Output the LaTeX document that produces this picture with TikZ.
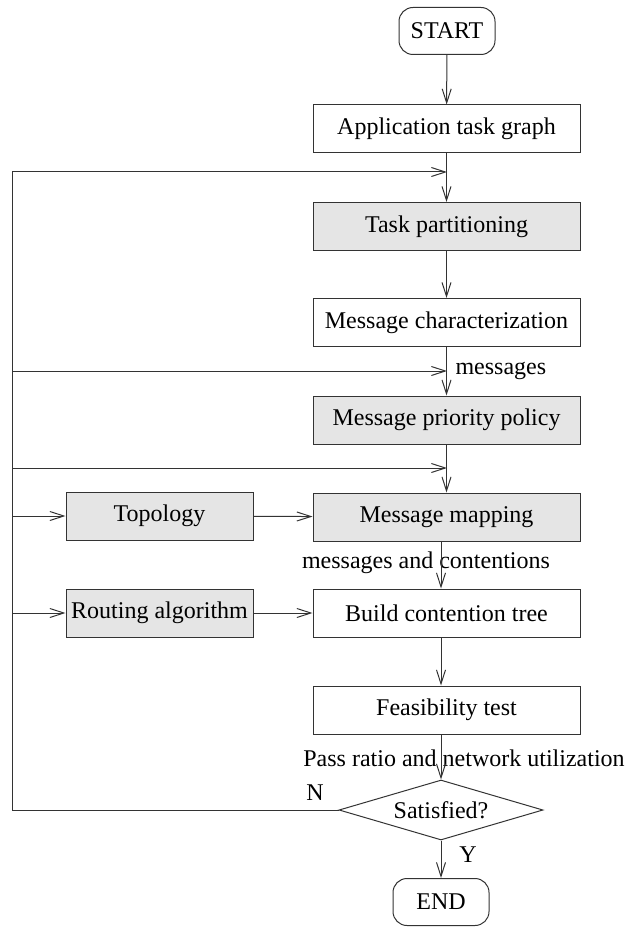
\documentclass[tikz,border=0pt]{standalone}
\usepackage{fontspec}
\setmainfont{Liberation Serif}
\usetikzlibrary{shapes,arrows.meta,positioning}

\begin{document}
\begin{tikzpicture}[x=1pt, y=-1pt,
		every node/.style={font=\fontsize{24}{28}\selectfont},
		box/.style={draw=black!80, line width=1pt, minimum width=267pt, minimum height=48pt, inner sep=0pt},
		shaded/.style={box, fill=black!10},
		sidebox/.style={shaded, minimum width=187pt},
		term/.style={draw=black!80, line width=1pt, rounded corners=14pt, minimum width=96pt, minimum height=47pt, inner sep=0pt},
		decision/.style={diamond, aspect=3.4, draw=black!80, line width=1pt, minimum width=204pt, minimum height=60pt, inner sep=0pt},
		flow/.style={draw=black!80, line width=1pt, ->},
		>={Straight Barb[length=14pt,width=9pt]}]
	\useasboundingbox (0,0) rectangle (626,928);
	% main column
	\node [term]	(start)	at (447,31)	{START};
	\node [box]	(app)	at (446.5,129)	{Application task graph};
	\node [shaded]	(task)	at (446.5,226.5)	{Task partitioning};
	\node [box]	(char)	at (446.5,322.5)	{Message characterization};
	\node [shaded]	(prio)	at (446.5,420)	{Message priority policy};
	\node [shaded]	(map)	at (446.5,517)	{Message mapping};
	\node [box]	(build)	at (446.5,613)	{Build contention tree};
	\node [box]	(feas)	at (446.5,710)	{Feasibility test};
	\node [decision]	(sat)	at (441,810)	{Satisfied?};
	\node [term]	(end)	at (441,902)	{END};
	% side inputs
	\node [sidebox]	(topo)	at (159.5,516)	{Topology};
	\node [sidebox]	(route)	at (159.5,613)	{Routing algorithm};
	% labels
	\node [anchor=west]	(msg)	at (452,371)	{messages};
	\node	(msgcont)	at (426,563)	{messages and contentions};
	\node	(pass)	at (464,758)	{Pass ratio and network utilization};
	\node	(no)	at (315,793)	{N};
	\node	(yes)	at (468,855)	{Y};
	% joints
	\coordinate (rail) at (12,172);
	\coordinate (j1) at (447,172);
	\coordinate (j2) at (447,371);
	\coordinate (j3) at (447,468);
	% connectors
	\draw [flow] (start) -- (app);
	\draw [flow] (app) -- (task);
	\draw [flow] (task) -- (char);
	\draw [flow] (char) -- (prio);
	\draw [flow] (prio) -- (map);
	\draw [flow] ([xshift=-5.5pt]map.south) -- ([xshift=-5.5pt]build.north);
	\draw [flow] ([xshift=-5.5pt]build.south) -- ([xshift=-5.5pt]feas.north);
	\draw [flow] ([xshift=-5.5pt]feas.south) -- (sat.north);
	\draw [flow] (sat) -- (end);
	\draw [flow] (topo) -- (map);
	\draw [flow] (route) -- (build);
	% feedback rail
	\draw [flow] (sat.west) -- (sat.west -| rail) -- (rail) -- (j1);
	\draw [flow] (j2 -| rail) -- (j2);
	\draw [flow] (j3 -| rail) -- (j3);
	\draw [flow] (topo.west -| rail) -- (topo);
	\draw [flow] (route.west -| rail) -- (route);
\end{tikzpicture}
\end{document}
